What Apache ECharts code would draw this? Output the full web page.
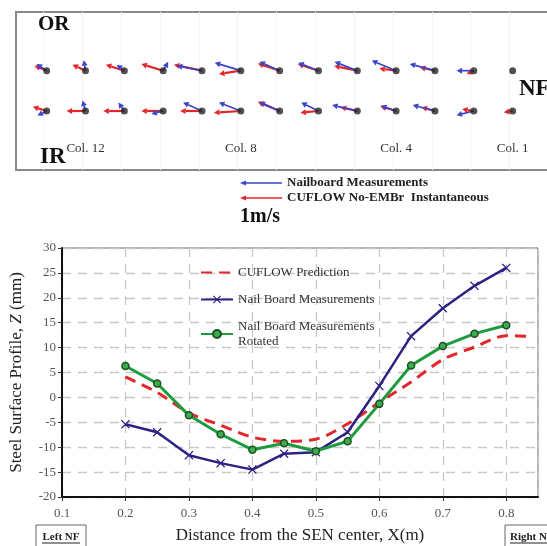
<!DOCTYPE html>
<html>
<head>
<meta charset="utf-8">
<script src="https://cdn.jsdelivr.net/npm/echarts@6/dist/echarts.min.js"></script>
<style>
  html, body { margin: 0; padding: 0; background: #fff; }
  #chart { width: 547px; height: 546px; }
</style>
</head>
<body>
<div id="chart"></div>
<script>
// 底部曲线数据
const xNail = [0.2, 0.25, 0.3, 0.35, 0.4, 0.45, 0.5, 0.55, 0.6, 0.65, 0.7, 0.75, 0.8]
const xCuflow = [0.2, 0.25, 0.3, 0.35, 0.4, 0.45, 0.5, 0.55, 0.6, 0.65, 0.7, 0.75, 0.8, 0.84]
const cuflowZ = [4.1, 1.0, -3.1, -5.6, -8.0, -8.8, -8.4, -5.3, -1.0, 3.1, 7.6, 10.1, 12.4, 12.2]
const nailZ = [-5.4, -7.0, -11.6, -13.2, -14.5, -11.3, -11.0, -7.0, 2.3, 12.3, 17.9, 22.4, 26.0]
const rotatedZ = [6.3, 2.8, -3.6, -7.4, -10.5, -9.2, -10.8, -8.8, -1.3, 6.4, 10.3, 12.8, 14.5]
const xTicks = [0.1, 0.2, 0.3, 0.4, 0.5, 0.6, 0.7, 0.8]

// 顶部矢量图数据 (位置 1..13 从左到右, 速度 m/s: [u, v])
const colPos = [1, 2, 3, 4, 5, 6, 7, 8, 9, 10, 11, 12, 13]
const colLabels = [['Col. 12', 2], ['Col. 8', 6], ['Col. 4', 10], ['Col. 1', 13]]
const cuflowOR = [[-0.29, 0.12], [-0.31, 0.14], [-0.44, 0.14], [-0.52, 0.16], [-0.67, 0.14], [-0.52, -0.08], [-0.52, 0.17],
  [-0.49, 0.16], [-0.55, 0.11], [-0.40, 0.05], [-0.36, 0.08], [-0.17, -0.08], [0, 0]]
const nailOR = [[-0.24, 0.16], [-0.04, 0.25], [-0.18, 0.14], [0.12, 0.21], [-0.60, 0.12], [-0.62, 0.19], [-0.48, 0.21],
  [-0.48, 0.19], [-0.54, 0.21], [-0.58, 0.24], [-0.60, 0.16], [-0.41, 0], [0, 0]]
const cuflowIR = [[-0.33, 0.10], [-0.45, 0], [-0.50, 0], [-0.52, 0], [-0.52, 0], [-0.64, -0.04], [-0.52, 0.22],
  [-0.43, -0.04], [-0.40, 0.09], [-0.38, 0.12], [-0.32, 0.09], [-0.28, 0.04], [-0.21, -0.03]]
const nailIR = [[-0.22, -0.11], [-0.07, 0.25], [-0.14, 0.20], [-0.28, -0.07], [-0.45, 0.20], [-0.52, 0.20], [-0.48, 0.21],
  [-0.41, 0.20], [-0.60, 0.14], [-0.36, 0.12], [-0.53, 0.14], [-0.41, -0.10], [0, 0]]

const PX_PER_MS = 42   // 1m/s 参考箭头长度
const RED = '#e3262a'
const BLUE = '#3a45c8'
const SERIF = '"Liberation Serif", "DejaVu Serif", serif'

const vecData = (rowOR, rowIR) => colPos.map((c, i) => [c, 1, rowOR[i][0], rowOR[i][1]])
  .concat(colPos.map((c, i) => [c, 2, rowIR[i][0], rowIR[i][1]]))

function arrowRender(color, width) {
  return function (params, api) {
    const p = api.coord([api.value(0), api.value(1)])
    const ex = p[0] + api.value(2) * PX_PER_MS
    const ey = p[1] - api.value(3) * PX_PER_MS
    const len = Math.hypot(ex - p[0], ey - p[1])
    if (len < 0.5) return null
    const ux = (ex - p[0]) / len, uy = (ey - p[1]) / len
    const h = 5.5, w = 3
    const bx = ex - ux * h, by = ey - uy * h
    return {
      type: 'group',
      children: [
        { type: 'line', shape: { x1: p[0], y1: p[1], x2: bx, y2: by }, style: { stroke: color, lineWidth: width } },
        { type: 'polygon', shape: { points: [[ex, ey], [bx - uy * w, by + ux * w], [bx + uy * w, by - ux * w]] }, style: { fill: color } }
      ]
    }
  }
}

function legendArrow(y, color) {
  return [
    { type: 'line', shape: { x1: 282, y1: y, x2: 245, y2: y }, style: { stroke: color, lineWidth: 1.5 } },
    { type: 'polygon', shape: { points: [[240, y], [246, y - 2.5], [246, y + 2.5]] }, style: { fill: color } }
  ]
}

const xMarker = 'path://M0,1L1,0L5,4L9,0L10,1L6,5L10,9L9,10L5,6L1,10L0,9L4,5Z'

const mycharts = echarts.init(document.getElementById('chart'))
mycharts.setOption({
  animation: false,
  textStyle: { fontFamily: SERIF },
  grid: [
    { left: 55, top: 248, right: 9, bottom: 49, show: true, borderColor: '#666', borderWidth: 1 },
    { left: 16, top: 12, right: 0, height: 158, show: false }
  ],
  legend: {
    left: 200,
    top: 265,
    padding: 0,
    orient: 'vertical',
    itemWidth: 32,
    itemHeight: 10,
    itemGap: 12,
    data: [
      { name: 'CUFLOW Prediction', itemStyle: { opacity: 0 } },
      'Nail Board Measurements',
      'Nail Board Measurements\nRotated'
    ],
    textStyle: { fontFamily: SERIF, fontSize: 13, color: '#333', lineHeight: 15 }
  },
  xAxis: [
    {
      type: 'value',
      gridIndex: 0,
      min: 0.1,
      max: 0.85,
      interval: 0.1,
      name: 'Distance from the SEN center, X(m)',
      nameLocation: 'middle',
      nameGap: 30,
      nameTextStyle: { fontFamily: SERIF, fontSize: 17, color: '#222' },
      axisLine: { show: true, onZero: false, lineStyle: { color: '#111', width: 2 } },
      axisTick: { show: true, length: 4, lineStyle: { color: '#333' } },
      axisLabel: {
        showMaxLabel: false,
        margin: 10,
        color: '#555',
        fontSize: 13,
        fontFamily: SERIF,
        formatter: v => xTicks.includes(Math.round(v * 100) / 100) ? v.toFixed(1) : ''
      },
      splitLine: { show: true, lineStyle: { color: '#c8c8c8', type: [9, 7], width: 1.3 } }
    },
    {
      type: 'value',
      gridIndex: 1,
      min: 0.21,
      max: 13.885,
      show: false
    }
  ],
  yAxis: [
    {
      type: 'value',
      gridIndex: 0,
      min: -20,
      max: 30,
      interval: 5,
      name: 'Steel Surface Profile, {i|Z} (mm)',
      nameLocation: 'middle',
      nameGap: 37,
      nameTextStyle: {
        fontFamily: SERIF, fontSize: 17, color: '#222',
        rich: { i: { fontFamily: SERIF, fontSize: 17, fontStyle: 'italic', color: '#222' } }
      },
      axisLine: { show: true, onZero: false, lineStyle: { color: '#111', width: 2 } },
      axisTick: { show: true, length: 4, lineStyle: { color: '#333' } },
      axisLabel: { color: '#555', fontSize: 13, fontFamily: SERIF, margin: 6 },
      splitLine: { show: true, lineStyle: { color: '#c8c8c8', type: [9, 7], width: 1.3 } }
    },
    {
      type: 'value',
      gridIndex: 1,
      min: -0.456,
      max: 3.464,
      inverse: true,
      show: false
    }
  ],
  series: [
    {
      name: 'CUFLOW Prediction',
      type: 'line',
      xAxisIndex: 0, yAxisIndex: 0,
      data: xCuflow.map((x, i) => [x, cuflowZ[i]]),
      smooth: 0.3,
      showSymbol: false,
      symbol: 'none',
      lineStyle: { color: RED, width: 3, type: [11, 7] },
      itemStyle: { color: RED },
      z: 2
    },
    {
      name: 'Nail Board Measurements',
      type: 'line',
      xAxisIndex: 0, yAxisIndex: 0,
      data: xNail.map((x, i) => [x, nailZ[i]]),
      symbol: xMarker,
      symbolSize: 9,
      lineStyle: { color: '#2c2283', width: 2.5 },
      itemStyle: { color: '#2c2283' },
      z: 3
    },
    {
      name: 'Nail Board Measurements\nRotated',
      type: 'line',
      xAxisIndex: 0, yAxisIndex: 0,
      data: xNail.map((x, i) => [x, rotatedZ[i]]),
      symbol: 'circle',
      symbolSize: 7,
      lineStyle: { color: '#1d9b3e', width: 3 },
      itemStyle: { color: '#3aae4c', borderColor: '#1f4f22', borderWidth: 1.5 },
      z: 4
    },
    {
      type: 'custom',
      xAxisIndex: 1, yAxisIndex: 1,
      renderItem: arrowRender(RED, 2.2),
      data: vecData(cuflowOR, cuflowIR),
      z: 2
    },
    {
      type: 'custom',
      xAxisIndex: 1, yAxisIndex: 1,
      renderItem: arrowRender(BLUE, 1.7),
      data: vecData(nailOR, nailIR),
      z: 3
    },
    {
      type: 'scatter',
      xAxisIndex: 1, yAxisIndex: 1,
      data: colPos.map(c => [c, 1]).concat(colPos.map(c => [c, 2])),
      symbolSize: 7,
      itemStyle: { color: '#262626' },
      z: 4,
      markLine: {
        silent: true,
        symbol: 'none',
        z: 0,
        label: { show: false },
        lineStyle: { color: '#f6f6f6', type: 'solid', width: 1, opacity: 1 },
        data: colPos.map(c => ({ xAxis: c - 0.08 }))
      }
    }
  ],
  graphic: [
    { type: 'rect', z: 0, shape: { x: 16, y: 12, width: 560, height: 158 }, style: { fill: 'none', stroke: '#888', lineWidth: 2 } },
    { type: 'text', z: 100, left: 38, top: 14, style: { text: 'OR', font: 'bold 21px ' + SERIF, fill: '#111' } },
    { type: 'text', z: 100, left: 40, top: 146, style: { text: 'IR', font: 'bold 23px ' + SERIF, fill: '#111' } },
    { type: 'text', z: 100, left: 519, top: 78, style: { text: 'NF', font: 'bold 23px ' + SERIF, fill: '#111' } },
    ...colLabels.map(([t, c]) => ({
      type: 'text',
      z: 100,
      x: 46.7 + (c - 1) * 38.83,
      y: 149,
      style: { text: t, font: '13px ' + SERIF, fill: '#333', align: 'center', verticalAlign: 'middle' }
    })),
    ...legendArrow(183, BLUE),
    ...legendArrow(198, RED),
    { type: 'text', x: 287, y: 183, style: { text: 'Nailboard Measurements', font: 'bold 13px ' + SERIF, fill: '#222', verticalAlign: 'middle' } },
    { type: 'text', x: 287, y: 198, style: { text: 'CUFLOW No-EMBr  Instantaneous', font: 'bold 13px ' + SERIF, fill: '#222', verticalAlign: 'middle' } },
    { type: 'text', x: 240, y: 217, style: { text: '1m/s', font: 'bold 20px ' + SERIF, fill: '#111', verticalAlign: 'middle' } },
    // 左右 NF 方框
    { type: 'rect', shape: { x: 36, y: 525, width: 50, height: 30 }, style: { fill: 'none', stroke: '#666', lineWidth: 1 } },
    { type: 'text', x: 61, y: 537, style: { text: 'Left NF', font: 'bold 11px ' + SERIF, fill: '#222', align: 'center', verticalAlign: 'middle' } },
    { type: 'line', shape: { x1: 42, y1: 543, x2: 80, y2: 543 }, style: { stroke: '#222', lineWidth: 1 } },
    { type: 'rect', shape: { x: 505, y: 525, width: 60, height: 30 }, style: { fill: 'none', stroke: '#666', lineWidth: 1 } },
    { type: 'text', x: 510, y: 537, style: { text: 'Right NF', font: 'bold 11px ' + SERIF, fill: '#222', verticalAlign: 'middle' } },
    { type: 'line', shape: { x1: 510, y1: 543, x2: 560, y2: 543 }, style: { stroke: '#222', lineWidth: 1 } }
  ]
})
</script>
</body>
</html>
